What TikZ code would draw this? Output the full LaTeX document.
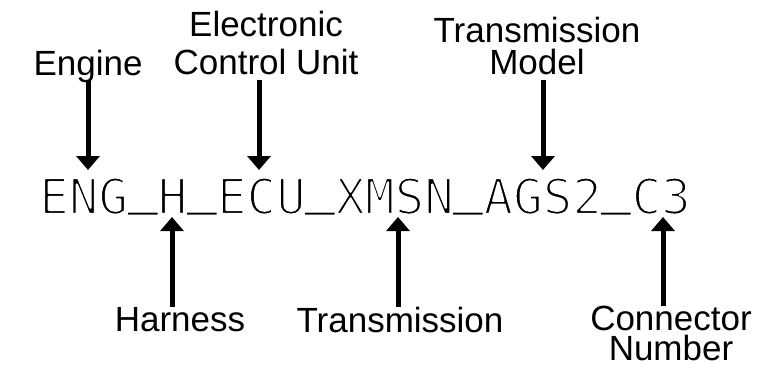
\documentclass[tikz,border=0pt]{standalone}
\usepackage{fontspec}
\setmainfont{Liberation Sans}
\newfontfamily\codefont{DejaVu Sans Mono}
\usetikzlibrary{arrows.meta}
\newcommand\thinon{\special{pdf:literal direct 1 1 1 RG 2.2 w 1 j 2 Tr}}
\newcommand\thinoff{\special{pdf:literal direct 0 Tr 0 0 0 RG}}
\newcommand\usc{\thinoff\raisebox{0.215em}{\char`\_}\thinon}
\begin{document}
\begin{tikzpicture}[x=1pt,y=-1pt,
  lbl/.style={inner sep=0pt, font=\fontsize{35}{38}\selectfont, align=center},
  pointer/.style={line width=5pt, -{Triangle[width=23pt,length=14pt]}},
  code/.style={inner sep=0pt, font=\codefont\fontsize{49.2}{50}\selectfont}]
\useasboundingbox[fill=white] (0,0) rectangle (763,368);

% main code string
\node[code, anchor=base west] (code) at (39,214) {\thinon ENG\usc H\usc ECU\usc XMSN\usc AGS2\usc C3\thinoff};

% arrow tip coordinates
\coordinate (engT) at (88,170);
\coordinate (ecuT) at (259,170);
\coordinate (modT) at (543,170);
\coordinate (harT) at (172,217);
\coordinate (trnT) at (398,217);
\coordinate (conT) at (663,217);

% top labels
\node[lbl, anchor=base] (eng) at (88,75) {Engine};
\node[lbl, anchor=south] (ecu) at (266,75) {Electronic\\Control Unit};
\node[lbl, anchor=south, font=\fontsize{35}{32}\selectfont] (mod) at (537,75) {Transmission\\Model};

% bottom labels
\node[lbl, anchor=north] (har) at (180,307) {Harness};
\node[lbl, anchor=north] (trn) at (400,307) {Transmission};
\node[lbl, anchor=north, font=\fontsize{35}{30}\selectfont] (con) at (671,306) {Connector\\Number};

% arrows
\draw[pointer] (eng.base -| engT) ++(0,5) -- (engT);
\draw[pointer] (ecu.south -| ecuT) ++(0,5) -- (ecuT);
\draw[pointer] (mod.south -| modT) ++(0,5) -- (modT);
\draw[pointer] (har.north -| harT) -- (harT);
\draw[pointer] (trn.north -| trnT) -- (trnT);
\draw[pointer] (con.north -| conT) -- (conT);
\end{tikzpicture}
\end{document}
